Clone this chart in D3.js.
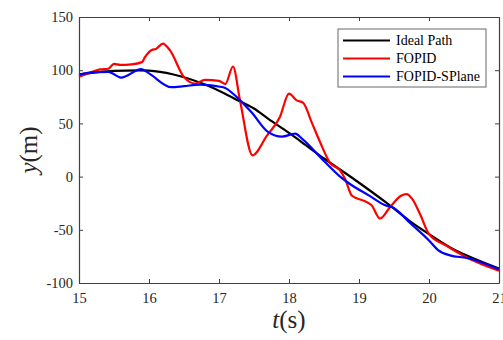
<!DOCTYPE html>
<html>
<head>
<meta charset="utf-8">
<script src="https://cdn.jsdelivr.net/npm/d3@7"></script>
<style>
  body { margin: 0; background: #fff; }
  text { font-family: "Liberation Serif", "Times New Roman", serif; }
</style>
</head>
<body>
<svg id="chart" width="503" height="340"></svg>
<script>
// values
const idealT = [15, 15.5, 15.87, 16, 16.35, 16.82, 17.23, 17.5, 17.7, 18, 18.18, 18.5, 18.92, 19.4, 19.73, 20, 20.37, 20.5, 21]
const idealY = [96, 99.3, 99.8, 99.6, 96, 86, 73, 64, 54.5, 41, 32.5, 17, -2, -25, -42, -54, -69, -73, -86.5]

const fopidT = [15, 15.13, 15.3, 15.42, 15.5, 15.59, 15.75, 15.9, 15.94, 16.04, 16.1, 16.2, 16.3, 16.5, 16.66, 16.8, 17, 17.09, 17.2, 17.3, 17.48, 17.68, 17.87, 18, 18.11, 18.2, 18.33, 18.44, 18.59, 18.72, 18.8, 18.9, 19.08, 19.18, 19.3, 19.44, 19.6, 19.68, 19.76, 19.87, 20, 20.25, 20.54, 21]
const fopidY = [94, 97, 100.7, 101.4, 106, 105, 105.5, 107.6, 112, 119, 120, 125, 118.6, 93.5, 87.5, 91, 90, 87, 103.5, 71.6, 20, 38, 56, 78, 71.6, 69.5, 50, 33, 12.5, 6.5, -2, -18, -23, -27, -39.4, -29, -18, -16.5, -21, -35, -54, -65, -76, -88.5]

const splaneT = [15, 15.18, 15.42, 15.6, 15.89, 16, 16.32, 16.5, 16.73, 17.06, 17.25, 17.47, 17.7, 17.9, 18.09, 18.18, 18.51, 18.73, 18.86, 19.14, 19.4, 19.47, 19.73, 20, 20.13, 20.3, 20.54, 21]
const splaneY = [95.5, 98, 98.5, 93, 101, 97, 84, 85, 86.4, 84, 75, 60, 42, 37.5, 40.4, 36, 14, 0, -6.5, -17.6, -27.5, -28.5, -43.6, -60, -69, -74, -76.5, -87]

const xTicks = [15, 16, 17, 18, 19, 20, 21]
const yTicks = [-100, -50, 0, 50, 100, 150]

const series = [
  {name: 'Ideal Path', color: '#000000', t: idealT, y: idealY},
  {name: 'FOPID', color: '#ff0000', t: fopidT, y: fopidY},
  {name: 'FOPID-SPlane', color: '#0000ff', t: splaneT, y: splaneY}
]

const margin = {top: 17, right: 4, bottom: 57, left: 79}
const width = 503 - margin.left - margin.right
const height = 340 - margin.top - margin.bottom
const axisColor = '#404040'

const svg = d3.select('#chart')
const g = svg.append('g')
  .attr('transform', 'translate(' + margin.left + ',' + margin.top + ')')

const x = d3.scaleLinear().domain([15, 21]).range([0, width])
const y = d3.scaleLinear().domain([-100, 150]).range([height, 0])

// lines first, axes drawn on top
const line = d3.line()
  .x(d => x(d[0]))
  .y(d => y(d[1]))
  .curve(d3.curveMonotoneX)

series.forEach(function(s) {
  g.append('path')
    .datum(s.t.map((t, i) => [t, s.y[i]]))
    .attr('fill', 'none')
    .attr('stroke', s.color)
    .attr('stroke-width', 2.2)
    .attr('stroke-linejoin', 'round')
    .attr('d', line)
})

// axes with inward ticks, box on
function styleAxis(sel) {
  sel.select('.domain').attr('stroke', axisColor).attr('stroke-width', 1.2)
  sel.selectAll('.tick line').attr('stroke', axisColor)
  sel.selectAll('.tick text')
    .attr('fill', '#262626')
    .style('font-family', '"Liberation Serif", serif')
    .style('font-size', '14.5px')
}

g.append('g')
  .attr('transform', 'translate(0,' + height + ')')
  .call(d3.axisBottom(x).tickValues(xTicks).tickSizeInner(-4).tickSizeOuter(0).tickPadding(10).tickFormat(d3.format('d')))
  .call(styleAxis)

g.append('g')
  .call(d3.axisLeft(y).tickValues(yTicks).tickSizeInner(-4).tickSizeOuter(0).tickPadding(6).tickFormat(d => String(d).replace('\u2212', '-')))
  .call(styleAxis)

g.append('g')
  .call(d3.axisTop(x).tickValues(xTicks).tickSizeInner(-4).tickSizeOuter(0).tickFormat(''))
  .call(styleAxis)

g.append('g')
  .attr('transform', 'translate(' + width + ',0)')
  .call(d3.axisRight(y).tickValues(yTicks).tickSizeInner(-4).tickSizeOuter(0).tickFormat(''))
  .call(styleAxis)

// axis labels
const xl = svg.append('text')
  .attr('x', margin.left + width / 2)
  .attr('y', 328)
  .attr('text-anchor', 'middle')
  .style('font-size', '25px')
  .attr('fill', '#262626')
xl.append('tspan').style('font-style', 'italic').text('t')
xl.append('tspan').text('(s)')

const yl = svg.append('text')
  .attr('transform', 'translate(37,' + (margin.top + height / 2) + ') rotate(-90)')
  .attr('text-anchor', 'middle')
  .style('font-size', '25px')
  .attr('fill', '#262626')
yl.append('tspan').style('font-style', 'italic').text('y')
yl.append('tspan').text('(m)')

// legend
const legend = svg.append('g').attr('transform', 'translate(338,29)')
legend.append('rect')
  .attr('width', 148)
  .attr('height', 58)
  .attr('fill', '#fff')
  .attr('stroke', axisColor)
  .attr('stroke-width', 0.8)

series.forEach(function(s, i) {
  const row = legend.append('g').attr('transform', 'translate(0,' + (11.5 + i * 18) + ')')
  row.append('line')
    .attr('x1', 5).attr('x2', 52)
    .attr('stroke', s.color)
    .attr('stroke-width', 2.2)
  row.append('text')
    .attr('x', 58)
    .attr('dy', '0.35em')
    .style('font-size', '14px')
    .attr('fill', '#000')
    .text(s.name)
})
</script>
</body>
</html>
